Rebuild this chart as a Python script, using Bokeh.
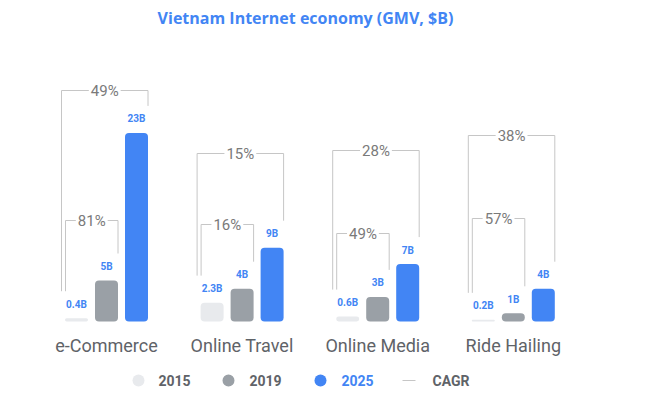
from bokeh.plotting import figure
from bokeh.models import Range1d, ColumnDataSource
from bokeh.embed import file_html
from bokeh.resources import INLINE
from bokeh.core.properties import value

# ---------------- data ----------------
categories = ["e-Commerce", "Online Travel", "Online Media", "Ride Hailing"]
years = ["2015", "2019", "2025"]
gmv_2015 = [0.4, 2.3, 0.6, 0.2]
gmv_2019 = [5, 4, 3, 1]
gmv_2025 = [23, 9, 7, 4]
labels_2015 = ["0.4B", "2.3B", "0.6B", "0.2B"]
labels_2019 = ["5B", "4B", "3B", "1B"]
labels_2025 = ["23B", "9B", "7B", "4B"]
cagr_2015_2019 = ["81%", "16%", "49%", "57%"]
cagr_2015_2025 = ["49%", "15%", "28%", "38%"]
title_text = "Vietnam Internet economy (GMV, $B)"
legend_labels = ["2015", "2019", "2025", "CAGR"]

# ---------------- layout / style ----------------
W, H = 666, 393
BASE_PX = 321.0      # baseline pixel row
PXB = 8.2            # pixels per $B
colors = ["#E8EAED", "#9AA0A6", "#4285F4"]
BLUE = "#4285F4"
GREY_TXT = "#5F6368"
PCT_TXT = "#7A7A7A"
LINE_C = "#C6C6C6"
FONT = value("Roboto")

def py(p):
    return (BASE_PX - p) / PXB

group_x0, group_step, bar_step, bar_w = 106.0, 135.6, 30.0, 23.0
outer_top_px = [90, 153, 150, 135]
inner_top_px = [220, 224, 233, 218]

p = figure(width=W, height=H, output_backend="svg", toolbar_location=None,
           x_range=Range1d(0, W), y_range=Range1d(py(H), py(0)),
           min_border=0, outline_line_color=None)
p.axis.visible = False
p.grid.visible = False
p.background_fill_color = "white"

centers = [group_x0 + i * group_step for i in range(len(categories))]
series = [gmv_2015, gmv_2019, gmv_2025]
series_labels = [labels_2015, labels_2019, labels_2025]

# bars and value labels
for j, (vals, labs) in enumerate(zip(series, series_labels)):
    xs = [c + (j - 1) * bar_step for c in centers]
    src = ColumnDataSource(dict(x=xs, top=vals, lab=labs))
    p.vbar(x="x", top="top", bottom=0, width=bar_w, source=src,
           fill_color=colors[j], line_color=None, border_radius=4)
    p.text(x="x", y="top", text="lab", source=src, y_offset=-14,
           text_align="center", text_baseline="middle",
           text_font=FONT, text_font_size="10px", text_font_style="bold",
           text_color=BLUE)

# CAGR brackets
end_gap = 27.0 / PXB
outer_paths_x, outer_paths_y, inner_paths_x, inner_paths_y = [], [], [], []
ox, oy, ix, iy = [], [], [], []
for i, c in enumerate(centers):
    left_edge = c - bar_step - bar_w / 2
    lo = left_edge - 3.5
    li = left_edge + 0.5
    ro = c + bar_step + bar_w / 2
    ri = c + bar_w / 2
    yl = gmv_2015[i] + end_gap
    to = py(outer_top_px[i])
    ti = py(inner_top_px[i])
    outer_paths_x.append([lo, lo, ro, ro])
    outer_paths_y.append([yl, to, to, gmv_2025[i] + end_gap])
    inner_paths_x.append([li, li, ri, ri])
    inner_paths_y.append([yl, ti, ti, gmv_2019[i] + end_gap])
    ox.append((lo + ro) / 2); oy.append(to)
    ix.append((li + ri) / 2); iy.append(ti)

p.multi_line(outer_paths_x, outer_paths_y, line_color=LINE_C, line_width=1)
p.multi_line(inner_paths_x, inner_paths_y, line_color=LINE_C, line_width=1)
for xs_, ys_, labs in [(ox, oy, cagr_2015_2025), (ix, iy, cagr_2015_2019)]:
    p.text(x=xs_, y=ys_, text=labs, text_align="center", text_baseline="middle",
           text_font=FONT, text_font_size="15px", text_color=PCT_TXT,
           background_fill_color="white", padding=2)

# category labels
p.text(x=centers, y=[py(345)] * len(centers), text=categories,
       text_align="center", text_baseline="middle", text_font=FONT,
       text_font_size="18px", text_color=GREY_TXT)

# title
p.text(x=[305], y=[py(17)], text=[title_text], text_align="center",
       text_baseline="middle", text_font=value("Open Sans"), text_font_size="16px",
       text_font_style="bold", text_color=BLUE)

# legend
ly = py(380)
leg_dot_x = [138, 228, 320]
p.scatter(x=leg_dot_x, y=[ly] * 3, size=12, marker="circle",
          fill_color=colors, line_color=None)
p.segment(x0=[402], y0=[ly], x1=[415], y1=[ly], line_color=LINE_C, line_width=1)
p.text(x=[158, 249, 341, 432], y=[ly] * 4, text=legend_labels,
       text_align="left", text_baseline="middle", text_font=FONT,
       text_font_size="14px", text_font_style="bold",
       text_color=[GREY_TXT, GREY_TXT, BLUE, GREY_TXT])

open("out.html", "w").write(file_html(p, INLINE))
